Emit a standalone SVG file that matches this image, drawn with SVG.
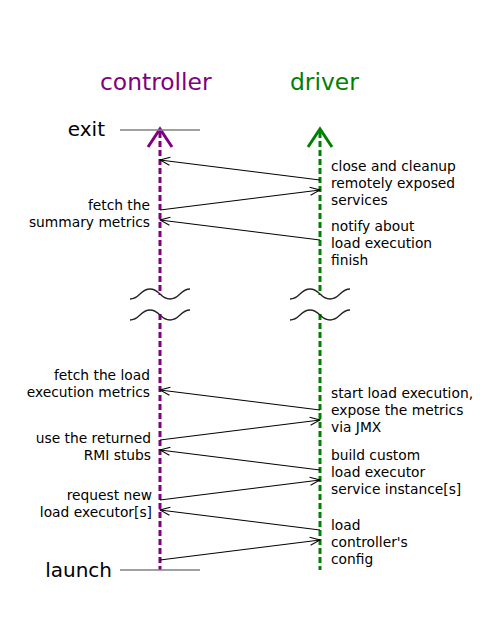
<svg xmlns="http://www.w3.org/2000/svg" width="480" height="640" viewBox="0 0 480 640">
<style>
text{font-family:"DejaVu Sans",sans-serif;fill:#000}
.title{font-size:23.4px}
.big{font-size:20px}
.lbl{font-size:13.8px}
.end{text-anchor:end}
.life{fill:none;stroke-width:3;stroke-dasharray:6,3}
.head{fill:none;stroke-width:3}
.bar{stroke:#808080;stroke-width:1.5}
.msg{stroke:#000;stroke-width:1;fill:none;marker-end:url(#open)}
.wave{fill:none;stroke:#222;stroke-width:1.3}
</style>
<defs>
<marker id="open" markerUnits="userSpaceOnUse" markerWidth="14" markerHeight="12" viewBox="-12 -6 14 12" refX="0" refY="0" orient="auto">
<path d="M-10,-4 L0,0 L-10,4" fill="none" stroke="#000" stroke-width="1"/>
</marker>
</defs>
<rect width="480" height="640" fill="#fff"/>
<g id="controller">
<text class="title" x="100" y="90" fill="#800080" style="fill:#800080">controller</text>
<line class="life" x1="160" y1="132" x2="160" y2="295" stroke="#800080"/>
<line class="life" x1="160" y1="314" x2="160" y2="570" stroke="#800080"/>
<polyline class="head" points="148,147 160,129 172,147" stroke="#800080"/>
</g>
<g id="driver">
<text class="title" x="290" y="90" style="fill:#008000">driver</text>
<line class="life" x1="320" y1="132" x2="320" y2="295" stroke="#008000"/>
<line class="life" x1="320" y1="314" x2="320" y2="570" stroke="#008000"/>
<polyline class="head" points="308,147 320,129 332,147" stroke="#008000"/>
</g>
<g id="exit">
<line class="bar" x1="120" y1="130" x2="200" y2="130"/>
<text class="big end" x="105" y="136">exit</text>
</g>
<g id="launch">
<line class="bar" x1="120" y1="570" x2="200" y2="570"/>
<text class="big end" x="112" y="577">launch</text>
</g>
<g id="breaks">
<path class="wave" d="M130,299 C140,299 140,289 150,289 C160,289 160,299 170,299 C180,299 180,289 190,289"/>
<path class="wave" d="M130,320 C140,320 140,310 150,310 C160,310 160,320 170,320 C180,320 180,310 190,310"/>
<path class="wave" d="M290,299 C300,299 300,289 310,289 C320,289 320,299 330,299 C340,299 340,289 350,289"/>
<path class="wave" d="M290,320 C300,320 300,310 310,310 C320,310 320,320 330,320 C340,320 340,310 350,310"/>
</g>
<g id="connectors">
<line class="msg" x1="320" y1="180" x2="160" y2="160"/>
<line class="msg" x1="160" y1="210" x2="320" y2="190"/>
<line class="msg" x1="320" y1="240" x2="160" y2="220"/>
<line class="msg" x1="320" y1="410" x2="160" y2="390"/>
<line class="msg" x1="160" y1="440" x2="320" y2="420"/>
<line class="msg" x1="320" y1="470" x2="160" y2="450"/>
<line class="msg" x1="160" y1="500" x2="320" y2="480"/>
<line class="msg" x1="320" y1="530" x2="160" y2="510"/>
<line class="msg" x1="160" y1="560" x2="320" y2="540"/>
</g>
<g id="labels-driver">
<text class="lbl" x="331" y="171">close and cleanup</text>
<text class="lbl" x="331" y="188">remotely exposed</text>
<text class="lbl" x="331" y="205">services</text>
<text class="lbl" x="331" y="230.5">notify about</text>
<text class="lbl" x="331" y="247.5">load execution</text>
<text class="lbl" x="331" y="264.5">finish</text>
<text class="lbl" x="331" y="397.5">start load execution,</text>
<text class="lbl" x="331" y="414.5">expose the metrics</text>
<text class="lbl" x="331" y="431.5">via JMX</text>
<text class="lbl" x="331" y="459.5">build custom</text>
<text class="lbl" x="331" y="476.5">load executor</text>
<text class="lbl" x="331" y="493.5">service instance[s]</text>
<text class="lbl" x="331" y="530">load</text>
<text class="lbl" x="331" y="547">controller's</text>
<text class="lbl" x="331" y="564">config</text>
</g>
<g id="labels-controller">
<text class="lbl end" x="150" y="210">fetch the</text>
<text class="lbl end" x="150" y="227">summary metrics</text>
<text class="lbl end" x="150" y="380">fetch the load</text>
<text class="lbl end" x="150" y="397">execution metrics</text>
<text class="lbl end" x="151" y="442.5">use the returned</text>
<text class="lbl end" x="151" y="459.5">RMI stubs</text>
<text class="lbl end" x="152" y="500">request new</text>
<text class="lbl end" x="152" y="517">load executor[s]</text>
</g>
</svg>
